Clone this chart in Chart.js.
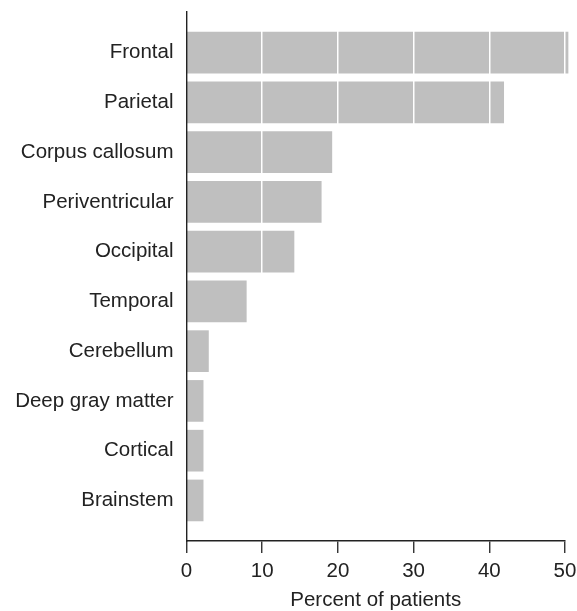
<!DOCTYPE html>
<html>
<head>
<meta charset="utf-8">
<title>Percent of patients</title>
<script src="https://cdn.jsdelivr.net/npm/chart.js@4"></script>
<style>
  html, body { margin: 0; padding: 0; background: #fff; }
  #wrap { width: 577px; height: 611px; }
</style>
</head>
<body>
<div id="wrap"><canvas id="chart"></canvas></div>
<script>
// data
const categories = ['Frontal', 'Parietal', 'Corpus callosum', 'Periventricular', 'Occipital',
  'Temporal', 'Cerebellum', 'Deep gray matter', 'Cortical', 'Brainstem'];
const percents = [50.4, 41.9, 19.2, 17.8, 14.2, 7.9, 2.9, 2.2, 2.2, 2.2];
const xTicks = [0, 10, 20, 30, 40, 50];

const font = { family: "'Liberation Sans', Arial, sans-serif", size: 20.5 };
const ink = '#222';

new Chart(document.getElementById('chart'), {
  type: 'bar',
  data: {
    datasets: [{
      data: percents.map((v, i) => ({ x: v, y: i })),
      backgroundColor: '#bfbfbf',
      borderWidth: 0,
      barThickness: 41,
      clip: false
    }]
  },
  options: {
    indexAxis: 'y',
    responsive: true,
    maintainAspectRatio: false,
    animation: false,
    layout: { padding: { top: 12, right: 12, left: 0, bottom: 0 } },
    plugins: { legend: { display: false }, tooltip: { enabled: false } },
    scales: {
      x: {
        type: 'linear',
        min: 0,
        max: 50,
        afterBuildTicks: s => { s.ticks = xTicks.map(v => ({ value: v })); },
        afterFit: s => { s.height = 70; s.paddingLeft = 0; s.paddingRight = 0; },
        grid: {
          z: 1,
          color: c => (c.tick && c.tick.value === 0) ? 'rgba(0,0,0,0)' : '#fff',
          lineWidth: 1.5,
          tickColor: ink,
          tickWidth: 1.3,
          tickLength: 12
        },
        border: { color: ink, width: 1.4, z: 1 },
        ticks: { font, color: ink, padding: 6, maxRotation: 0 },
        title: {
          display: true, text: 'Percent of patients', color: ink,
          font: { family: font.family, size: 20.5, lineHeight: 1 },
          padding: { top: 0, bottom: 0 }
        }
      },
      y: {
        type: 'linear',
        reverse: true,
        offset: false,
        min: -0.815,
        max: 9.815,
        afterBuildTicks: s => { s.ticks = categories.map((c, i) => ({ value: i })); },
        afterFit: s => { s.width = 186.5; s.paddingTop = 0; s.paddingBottom = 0; },
        grid: { display: false, drawTicks: false, offset: false },
        border: { color: ink, width: 1.4, z: 1 },
        ticks: { font, color: ink, padding: 13, callback: v => categories[v] }
      }
    }
  }
});
</script>
</body>
</html>
